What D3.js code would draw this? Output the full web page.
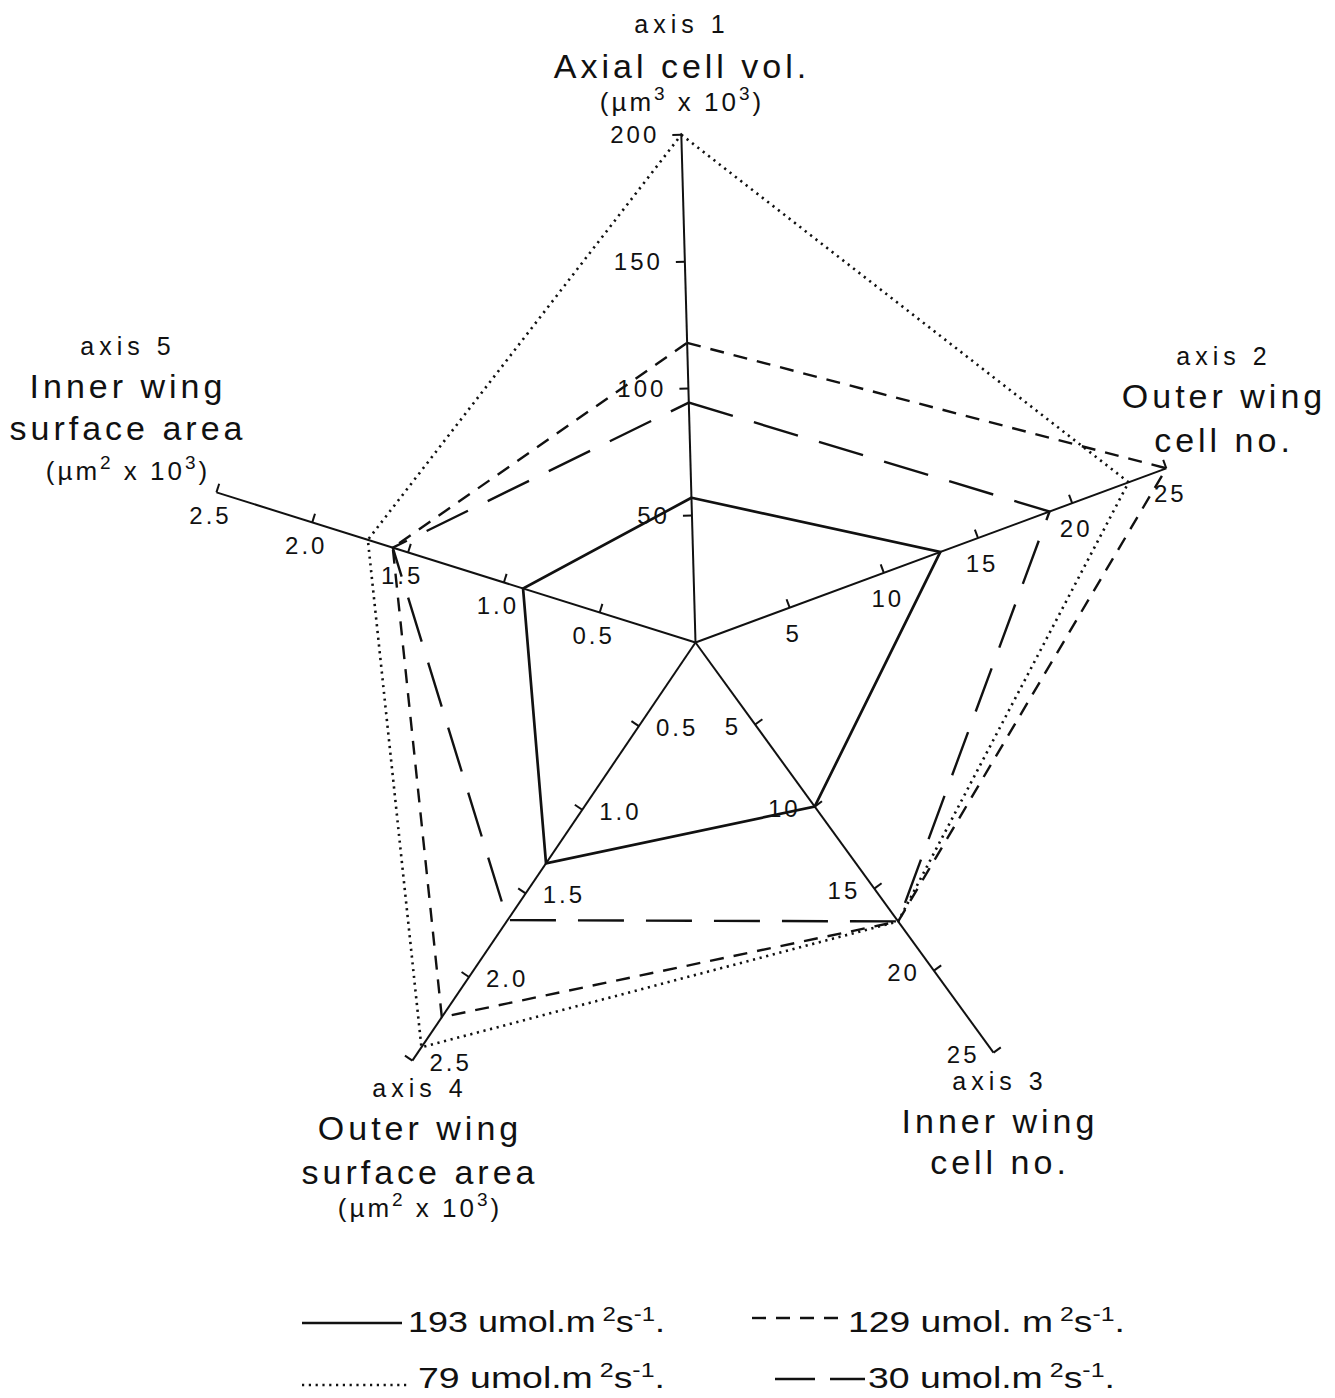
<!DOCTYPE html>
<html>
<head>
<meta charset="utf-8">
<script src="https://cdn.jsdelivr.net/npm/d3@7"></script>
<style>
  html, body { margin: 0; padding: 0; background: #fff; }
  svg { display: block; }
  text { font-family: "Liberation Sans", Arial, Helvetica, sans-serif; fill: #111; }
</style>
</head>
<body>
<svg id="chart" width="1335" height="1398"></svg>
<script>
// ---- data ----------------------------------------------------------------
const axisNames  = ["axis 1", "axis 2", "axis 3", "axis 4", "axis 5"];
const axisTitles = [
  ["Axial cell vol."],
  ["Outer wing", "cell no."],
  ["Inner wing", "cell no."],
  ["Outer wing", "surface area"],
  ["Inner wing", "surface area"]
];
const axisUnits  = ["3", null, null, "2", "2"];   // exponent of µm in the unit line, if any
const axisMax    = [200, 25, 25, 2.5, 2.5];
const axisTicks  = [
  [50, 100, 150, 200],
  [5, 10, 15, 20, 25],
  [5, 10, 15, 20, 25],
  [0.5, 1.0, 1.5, 2.0, 2.5],
  [0.5, 1.0, 1.5, 2.0, 2.5]
];
const tickLabels = [
  ["50", "100", "150", "200"],
  ["5", "10", "15", "20", "25"],
  ["5", "10", "15", "20", "25"],
  ["0.5", "1.0", "1.5", "2.0", "2.5"],
  ["0.5", "1.0", "1.5", "2.0", "2.5"]
];

// light level treatments (umol m-2 s-1) and values on axes 1..5
const lightLevels = ["193", "129", "79", "30"];
const values193 = [57, 13, 10, 1.32, 0.9];
const values129 = [118, 25, 17, 2.24, 1.58];
const values79  = [200, 23, 17, 2.42, 1.71];
const values30  = [94.5, 18.8, 17, 1.66, 1.58];
const seriesValues = [values193, values129, values79, values30];

// ---- layout --------------------------------------------------------------
const cx = 695.5, cy = 642.5;
const axisAngleDeg = [-91.6, -20.3, 54.0, 124.1, 197.4];
const axisLength   = [508, 502, 507, 505, 502];
const tickSide     = [1, 1, 1, -1, -1];
const tickLen = 9;

const lineStyles = [
  { dash: null,      width: 2.7 },   // 193
  { dash: "14,10",   width: 2.4 },   // 129
  { dash: "2.2,4.6", width: 2.6 },   // 79
  { dash: "46,22",   width: 2.4 }    // 30
];

const svg = d3.select("#chart");

const rad = a => a * Math.PI / 180;
const scales = axisMax.map((m, i) => d3.scaleLinear().domain([0, m]).range([0, axisLength[i]]));
function pt(i, v) {
  const r = scales[i](v), a = rad(axisAngleDeg[i]);
  return [cx + r * Math.cos(a), cy + r * Math.sin(a)];
}
function normal(i) {
  const a = rad(axisAngleDeg[i]);
  return [Math.sin(a) * tickSide[i], -Math.cos(a) * tickSide[i]];
}

// ---- axes ----------------------------------------------------------------
const gAxes = svg.append("g").attr("stroke", "#111").attr("stroke-width", 2).attr("fill", "none");
axisMax.forEach((m, i) => {
  const end = pt(i, m);
  gAxes.append("line").attr("x1", cx).attr("y1", cy).attr("x2", end[0]).attr("y2", end[1]);
  const n = normal(i);
  axisTicks[i].forEach(v => {
    const p = pt(i, v);
    gAxes.append("line")
      .attr("x1", p[0]).attr("y1", p[1])
      .attr("x2", p[0] + n[0] * tickLen).attr("y2", p[1] + n[1] * tickLen);
  });
});

// tick labels, placed on the outer side of each axis
const tickLabelPlacement = [
  { anchor: "end",    dx: -22, dy: 8 },
  { anchor: "middle", dx: 4,   dy: 34 },
  { anchor: "end",    dx: -14, dy: 10 },
  { anchor: "start",  dx: 17,  dy: 10 },
  { anchor: "middle", dx: -6,  dy: 32 }
];
const gTickText = svg.append("g")
  .attr("font-size", 24).style("letter-spacing", "3px");
axisTicks.forEach((ticks, i) => {
  const pl = tickLabelPlacement[i];
  ticks.forEach((v, k) => {
    const p = pt(i, v);
    gTickText.append("text")
      .attr("x", p[0] + pl.dx).attr("y", p[1] + pl.dy)
      .attr("text-anchor", pl.anchor)
      .text(tickLabels[i][k]);
  });
});

// ---- series polygons -----------------------------------------------------
const polygon = d3.line().curve(d3.curveLinearClosed);
seriesValues.forEach((vals, s) => {
  const st = lineStyles[s];
  svg.append("path")
    .attr("d", polygon(vals.map((v, i) => pt(i, v))))
    .attr("fill", "none")
    .attr("stroke", "#111")
    .attr("stroke-width", st.width)
    .attr("stroke-linejoin", "miter")
    .attr("stroke-dasharray", st.dash);
});

// ---- axis titles ---------------------------------------------------------
const titleBlocks = [
  { x: 682,  name: 33,   lines: [78],         unit: 111 },
  { x: 1224, name: 365,  lines: [408, 452],   unit: null },
  { x: 1000, name: 1090, lines: [1133, 1174], unit: null },
  { x: 420,  name: 1097, lines: [1140, 1184], unit: 1217 },
  { x: 128,  name: 355,  lines: [398, 440],   unit: 480 }
];
const gTitles = svg.append("g");
titleBlocks.forEach((b, i) => {
  gTitles.append("text")
    .attr("x", b.x).attr("y", b.name).attr("text-anchor", "middle")
    .attr("font-size", 25).style("letter-spacing", "5px")
    .text(axisNames[i]);
  axisTitles[i].forEach((t, k) => {
    gTitles.append("text")
      .attr("x", b.x).attr("y", b.lines[k]).attr("text-anchor", "middle")
      .attr("font-size", 34).style("letter-spacing", "4px")
      .text(t);
  });
  if (axisUnits[i]) {
    const u = gTitles.append("text")
      .attr("x", b.x).attr("y", b.unit).attr("text-anchor", "middle")
      .attr("font-size", 26).style("letter-spacing", "3px");
    u.append("tspan").text("(\u00b5m");
    u.append("tspan").attr("dy", -11).attr("font-size", 19).text(axisUnits[i]);
    u.append("tspan").attr("dy", 11).text(" x 10");
    u.append("tspan").attr("dy", -11).attr("font-size", 19).text("3");
    u.append("tspan").attr("dy", 11).text(")");
  }
});

// ---- legend --------------------------------------------------------------
const legendItems = [
  { s: 0, x1: 302, x2: 402, ly: 1323, tx: 408, ty: 1332, w: 257, gap: false },
  { s: 1, x1: 752, x2: 845, ly: 1318, tx: 848, ty: 1332, w: 277, gap: true  },
  { s: 2, x1: 302, x2: 410, ly: 1385, tx: 418, ty: 1388, w: 247, gap: false },
  { s: 3, x1: 775, x2: 865, ly: 1379, tx: 868, ty: 1388, w: 247, gap: false }
];
const gLegend = svg.append("g");
legendItems.forEach(it => {
  const st = lineStyles[it.s];
  const legendDash = it.s === 3 ? "40,15" : st.dash;
  gLegend.append("line")
    .attr("x1", it.x1).attr("x2", it.x2).attr("y1", it.ly).attr("y2", it.ly)
    .attr("stroke", "#111").attr("stroke-width", st.width)
    .attr("stroke-dasharray", legendDash);
  const t = gLegend.append("text")
    .attr("x", it.tx).attr("y", it.ty)
    .attr("font-size", 30)
    .attr("textLength", it.w).attr("lengthAdjust", "spacingAndGlyphs");
  t.append("tspan").text(lightLevels[it.s] + (it.gap ? " umol. m" : " umol.m"));
  t.append("tspan").attr("dy", -11).attr("font-size", 20).text(" 2");
  t.append("tspan").attr("dy", 11).text("s");
  t.append("tspan").attr("dy", -11).attr("font-size", 20).text("-1");
  t.append("tspan").attr("dy", 11).text(".");
});
</script>
</body>
</html>
